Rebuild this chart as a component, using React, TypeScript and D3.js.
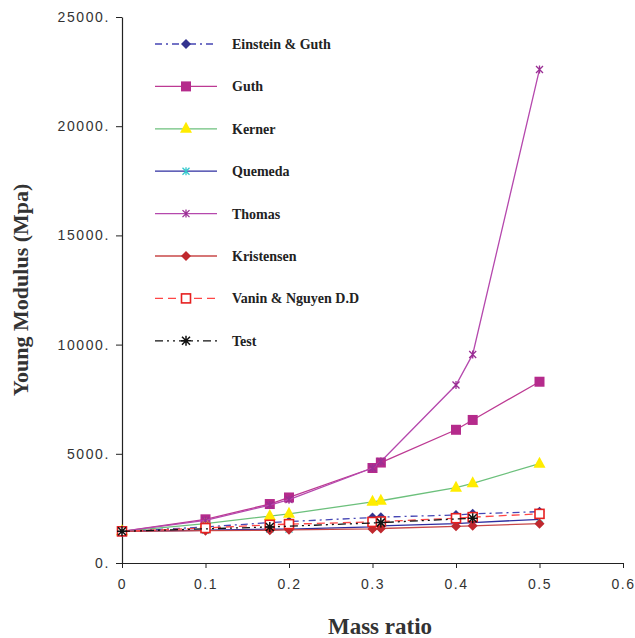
import * as React from "react";
import * as d3 from "d3";

// mass ratio values shared by the model curves
const massRatio = [0, 0.1, 0.177, 0.2, 0.3, 0.31, 0.4, 0.42, 0.5];
const einsteinGuth = [1450, 1650, 1850, 1900, 2080, 2100, 2200, 2250, 2350];
const guth = [1450, 2000, 2700, 3000, 4350, 4600, 6100, 6550, 8300];
const kerner = [1450, 1800, 2150, 2250, 2800, 2850, 3450, 3650, 4550];
const quemeda = [1450, 1500, 1550, 1550, 1650, 1700, 1800, 1850, 2000];
const thomas = [1450, 1950, 2650, 2900, 4350, 4650, 8150, 9550, 22600];
const kristensen = [1450, 1480, 1500, 1520, 1560, 1580, 1680, 1700, 1800];
const vaninNguyen = [1450, 1600, 1750, 1780, 1880, 1900, 2050, 2100, 2250];
const testRatio = [0, 0.177, 0.31, 0.42];
const testValues = [1450, 1650, 1850, 2050];

const yTicks = [0, 5000, 10000, 15000, 20000, 25000];
const xTicks = [0, 0.1, 0.2, 0.3, 0.4, 0.5, 0.6];

const series = [
  { name: "Einstein & Guth", xs: massRatio, ys: einsteinGuth, line: "#4646b4", dash: "7,4,2,4", marker: "diamond", fill: "#33338f", stroke: "#33338f" },
  { name: "Guth", xs: massRatio, ys: guth, line: "#bd3a93", dash: null, marker: "square", fill: "#b52b8c", stroke: "#b52b8c" },
  { name: "Kerner", xs: massRatio, ys: kerner, line: "#6cc07c", dash: null, marker: "triangle", fill: "#ffec00", stroke: "#ffec00" },
  { name: "Quemeda", xs: massRatio, ys: quemeda, line: "#2e2ea0", dash: null, marker: "asterisk", fill: "none", stroke: "#33c8cc" },
  { name: "Thomas", xs: massRatio, ys: thomas, line: "#b548ad", dash: null, marker: "asterisk", fill: "none", stroke: "#9a2f94" },
  { name: "Kristensen", xs: massRatio, ys: kristensen, line: "#c84848", dash: null, marker: "diamond", fill: "#c0282e", stroke: "#c0282e" },
  { name: "Vanin & Nguyen D.D", xs: massRatio, ys: vaninNguyen, line: "#ff4646", dash: "8,5", marker: "open", fill: "#fff", stroke: "#e62020" },
  { name: "Test", xs: testRatio, ys: testValues, line: "#111", dash: "8,4,2,4,2,4", marker: "star", fill: "none", stroke: "#111" },
];

function drawMarker(g, type, fill, stroke) {
  if (type === "diamond") {
    g.append("path").attr("d", "M0,-5L5,0L0,5L-5,0Z").attr("fill", fill);
  } else if (type === "square") {
    g.append("rect").attr("x", -5).attr("y", -5).attr("width", 10).attr("height", 10).attr("fill", fill);
  } else if (type === "open") {
    g.append("rect").attr("x", -4.5).attr("y", -4.5).attr("width", 9).attr("height", 9)
      .attr("fill", fill).attr("stroke", stroke).attr("stroke-width", 1.6);
  } else if (type === "triangle") {
    g.append("path").attr("d", "M0,-7L6,4L-6,4Z").attr("fill", fill);
  } else if (type === "asterisk") {
    g.append("path").attr("d", "M-3.5,-3.5L3.5,3.5M-3.5,3.5L3.5,-3.5M0,-4L0,4")
      .attr("stroke", stroke).attr("stroke-width", 1.3);
  } else if (type === "star") {
    g.append("path").attr("d", "M-4,-4L4,4M-4,4L4,-4M0,-5L0,5M-5,0L5,0")
      .attr("stroke", stroke).attr("stroke-width", 1.5);
  }
}

function drawChart(svgRef) {
  const svg = d3.select(svgRef.current);
  svg.selectAll("*").remove();

  const x = d3.scaleLinear().domain([0, 0.6]).range([122, 623]);
  const y = d3.scaleLinear().domain([0, 25000]).range([563, 17]);

  // axes
  const yAxis = svg.append("g")
    .attr("transform", "translate(122,0)")
    .call(d3.axisLeft(y).tickValues(yTicks).tickSize(6).tickSizeOuter(0).tickFormat((d) => d + "."));
  const xAxis = svg.append("g")
    .attr("transform", "translate(0,563)")
    .call(d3.axisBottom(x).tickValues(xTicks).tickSize(5).tickSizeOuter(0).tickFormat((d) => String(d)));

  [yAxis, xAxis].forEach((a) => {
    a.select(".domain").attr("stroke", "#222").attr("stroke-width", 1.2);
    a.selectAll(".tick line").attr("stroke", "#222");
    a.selectAll("text")
      .attr("font-family", "Liberation Sans, Arial, sans-serif")
      .attr("font-size", 14)
      .attr("letter-spacing", 1.6)
      .attr("fill", "#333");
  });
  yAxis.selectAll("text").attr("x", -12);
  xAxis.selectAll("text").attr("y", 16);

  // series lines and markers
  series.forEach((s) => {
    const pts = s.xs.map((v, i) => [v, s.ys[i]]);
    const line = d3.line().x((d) => x(d[0])).y((d) => y(d[1]));
    svg.append("path")
      .datum(pts)
      .attr("d", line)
      .attr("fill", "none")
      .attr("stroke", s.line)
      .attr("stroke-width", 1.3)
      .attr("stroke-dasharray", s.dash);
    pts.forEach((p) => {
      const g = svg.append("g").attr("transform", `translate(${x(p[0])},${y(p[1])})`);
      drawMarker(g, s.marker, s.fill, s.stroke);
    });
  });

  // legend
  const legend = svg.append("g");
  series.forEach((s, i) => {
    const ly = 44 + i * 42.4;
    legend.append("line")
      .attr("x1", 155).attr("x2", 217).attr("y1", ly).attr("y2", ly)
      .attr("stroke", s.line).attr("stroke-width", 1.3)
      .attr("stroke-dasharray", s.dash);
    drawMarker(legend.append("g").attr("transform", `translate(186,${ly})`), s.marker, s.fill, s.stroke);
    legend.append("text")
      .attr("x", 232).attr("y", ly + 5)
      .attr("font-family", "Liberation Serif, Times New Roman, serif")
      .attr("font-weight", "bold")
      .attr("font-size", 14)
      .attr("fill", "#222")
      .text(s.name);
  });

  // titles
  svg.append("text")
    .attr("transform", "translate(28,290) rotate(-90)")
    .attr("text-anchor", "middle")
    .attr("font-family", "Liberation Serif, Times New Roman, serif")
    .attr("font-weight", "bold")
    .attr("font-size", 22)
    .attr("fill", "#333")
    .text("Young Modulus (Mpa)");
  svg.append("text")
    .attr("x", 380).attr("y", 634)
    .attr("text-anchor", "middle")
    .attr("font-family", "Liberation Serif, Times New Roman, serif")
    .attr("font-weight", "bold")
    .attr("font-size", 23)
    .attr("fill", "#333")
    .text("Mass ratio");
}

const App = () => {
  const svgRef = React.useRef(null);

  React.useEffect(() => {
    drawChart(svgRef);
  }, [svgRef]);

  return (
    <svg ref={svgRef} width={635} height={638} style={{ position: "absolute", left: 0, top: 0, background: "#fff" }} />
  );
};

export default App;
